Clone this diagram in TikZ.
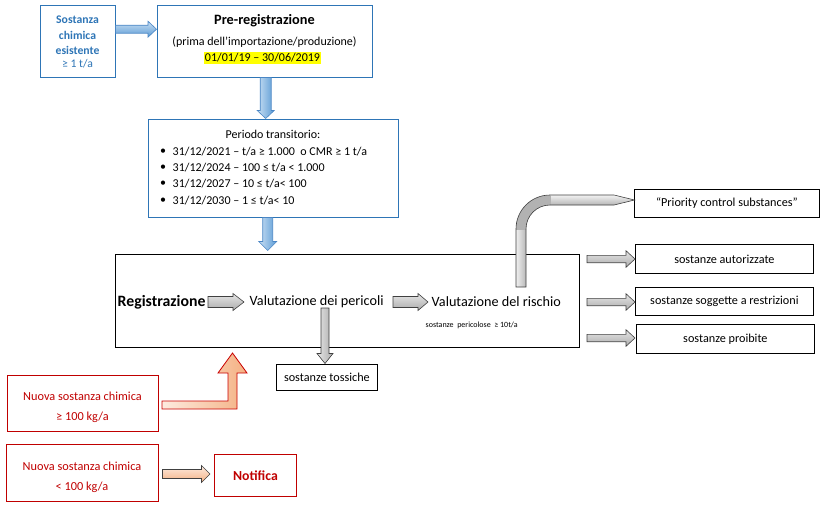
\documentclass[tikz,border=0pt]{standalone}
\usepackage{fontspec}
\setmainfont{Carlito}
\definecolor{bbord}{HTML}{2E75B6}
\definecolor{btext}{HTML}{2E75B6}
\definecolor{rbord}{HTML}{C00000}
\definecolor{bfillA}{HTML}{C9DFF3}
\definecolor{bfillB}{HTML}{5B9BD5}
\definecolor{barr}{HTML}{4A86C5}
\definecolor{orA}{HTML}{FDEBE0}
\definecolor{orB}{HTML}{F4B183}
\definecolor{hilite}{HTML}{FFFF00}
\pgfdeclareradialshading{ringshade}{\pgfpoint{0bp}{0bp}}{color(0bp)=(gray!60); color(35.3bp)=(gray!60); color(42.6bp)=(gray!38); color(50bp)=(gray!8)}
% horizontal block arrow: style, x1, x2, yc, body half, head half, head length
\newcommand{\harr}[7]{\path[#1] (#2,#4-#5) -- (#3-#7,#4-#5) -- (#3-#7,#4-#6) -- (#3,#4) -- (#3-#7,#4+#6) -- (#3-#7,#4+#5) -- (#2,#4+#5) -- cycle;}
% vertical block arrow: style, y1, y2, xc, body half, head half, head length
\newcommand{\varr}[7]{\path[#1] (#4-#5,#2) -- (#4-#5,#3-#7) -- (#4-#6,#3-#7) -- (#4,#3) -- (#4+#6,#3-#7) -- (#4+#5,#3-#7) -- (#4+#5,#2) -- cycle;}
\newcommand{\curvedpath}{(516,287) -- (516,229) .. controls (516,210.2) and (531.2,195) .. (550,195)
  -- (614,195) -- (634.5,200) -- (614,205) -- (550,205)
  .. controls (536.7,205) and (526,215.7) .. (526,229) -- (526,287) -- cycle}
\begin{document}
\begin{tikzpicture}[x=1pt,y=-1pt,
  box/.style={draw=black, line width=0.8pt, anchor=north west, inner sep=0pt, align=center, font=\fontsize{12.2}{14}\selectfont},
  bluebox/.style={box, draw=bbord, line width=1pt},
  redbox/.style={box, draw=rbord, line width=1pt},
  txt/.style={inner sep=0pt, font=\fontsize{12}{14}\selectfont},
  bluearr/.style={draw=barr, line width=0.6pt, top color=bfillA, bottom color=bfillB},
  bluearrv/.style={draw=barr, line width=0.6pt, left color=bfillA, right color=bfillB},
  grayarr/.style={draw=black!75, line width=0.6pt, top color=gray!20, middle color=gray!12, bottom color=gray!65},
  grayarrv/.style={draw=black!75, line width=0.6pt, left color=gray!20, middle color=gray!12, right color=gray!65},
  orarr/.style={draw=black!75, line width=0.6pt, top color=orA, bottom color=orB},
]
\useasboundingbox (0,0) rectangle (820,507);

% ---------- boxes ----------
\node[bluebox, minimum width=75pt, minimum height=72pt] (sost) at (40,5) {};
\node[bluebox, minimum width=215pt, minimum height=72pt] (pre) at (157,5) {};
\node[bluebox, minimum width=250pt, minimum height=98pt] (per) at (148,119) {};
\node[box, minimum width=464pt, minimum height=93pt] (reg) at (115,254) {};
\node[box, minimum width=101pt, minimum height=26pt] (tox) at (276,364) {sostanze tossiche};
\node[box, minimum width=185pt, minimum height=28pt] (prio) at (634,189) {“Priority control substances”};
\node[box, minimum width=178pt, minimum height=29pt] (aut) at (635,244) {sostanze autorizzate};
\node[box, minimum width=178pt, minimum height=28pt] (sog) at (635,287) {sostanze soggette a restrizioni};
\node[box, minimum width=178pt, minimum height=29pt] (proi) at (636,324) {sostanze proibite};
\node[redbox, minimum width=151pt, minimum height=56pt] (new1) at (7,375) {};
\node[redbox, minimum width=152pt, minimum height=57pt] (new2) at (6,444) {};
\node[redbox, minimum width=82pt, minimum height=42pt, text=rbord, font=\bfseries\fontsize{13.8}{16}\selectfont] (notif) at (214,454) {Notifica};

% ---------- texts ----------
\node[txt, text=btext, font=\bfseries\fontsize{11.7}{14}\selectfont] (s1) at (77.5,20) {Sostanza};
\node[txt, text=btext, font=\bfseries\fontsize{11.7}{14}\selectfont] (s2) at (77.5,35) {chimica};
\node[txt, text=btext, font=\bfseries\fontsize{11.7}{14}\selectfont] (s3) at (77.5,50) {esistente};
\node[txt, text=btext, font=\fontsize{11.7}{14}\selectfont] (s4) at (77.5,64) {≥ 1 t/a};

\node[txt, font=\bfseries\fontsize{14.3}{16}\selectfont] (p1) at (264.5,21) {Pre-registrazione};
\node[txt] (p2) at (264.5,42) {(prima dell’importazione/produzione)};
\node[txt, fill=hilite, inner xsep=1pt, inner ysep=1.2pt] (p3) at (262.5,58) {01/01/19 – 30/06/2019};

\node[txt] (t0) at (273,134) {Periodo transitorio:};
\foreach \yy/\tt [count=\i] in {152/{31/12/2021 – t/a ≥ 1.000\ \ o CMR ≥ 1 t/a},168/{31/12/2024 – 100 ≤ t/a < 1.000},184/{31/12/2027 – 10 ≤ t/a< 100},200.5/{31/12/2030 – 1 ≤ t/a< 10}}{
  \node[txt] (b\i) at (163,\yy) {\textbullet};
  \node[txt, anchor=west] (t\i) at (172.5,\yy) {\tt};
}

\node[txt, anchor=west, font=\bfseries\fontsize{15.8}{17}\selectfont] (r1) at (117.5,302) {Registrazione};
\node[txt, anchor=west, font=\fontsize{14.2}{16}\selectfont] (r2) at (249.5,302) {Valutazione dei pericoli};
\node[txt, anchor=west, font=\fontsize{14.2}{16}\selectfont] (r3) at (431.5,302) {Valutazione del rischio};
\node[txt, anchor=west, font=\fontsize{8}{9}\selectfont] (r4) at (425.5,325) {sostanze\ \ pericolose\ \ ≥ 10t/a};

\node[txt, text=rbord, font=\fontsize{12.3}{14}\selectfont] (n1a) at (82.5,396) {Nuova sostanza chimica};
\node[txt, text=rbord, font=\fontsize{12.3}{14}\selectfont] (n1b) at (82.5,417) {≥ 100 kg/a};
\node[txt, text=rbord, font=\fontsize{12.3}{14}\selectfont] (n2a) at (82,466) {Nuova sostanza chimica};
\node[txt, text=rbord, font=\fontsize{12.3}{14}\selectfont] (n2b) at (82,487) {< 100 kg/a};

% ---------- arrows ----------
\harr{bluearr}{115.5}{156.5}{29.2}{4}{8}{8.5}
\varr{bluearrv}{77.5}{118.5}{265.7}{5.5}{8.5}{8}
\varr{bluearrv}{217.5}{250.5}{267.7}{5}{9}{9}

\harr{grayarr}{208}{244}{302}{5.5}{8.5}{11}
\harr{grayarr}{393}{428}{302}{5.5}{8.5}{10}
\varr{grayarrv}{308}{363.5}{325}{4}{8}{10}

\harr{grayarr}{587}{635}{259}{3.7}{8.3}{9}
\harr{grayarr}{587}{635}{302}{3.7}{8.3}{9}
\harr{grayarr}{587}{635}{338}{3.7}{8.3}{9}

% curved arrow to priority substances
\begin{scope}
  \clip \curvedpath;
  \shade[left color=gray!8, middle color=gray!38, right color=gray!60] (515,229) rectangle (527,289);
  \shade[top color=gray!8, middle color=gray!38, bottom color=gray!60] (550,194.5) rectangle (636,205.5);
  \begin{scope}
    \clip (515,194) rectangle (550.3,229.3);
    \shade[shading=ringshade] (516,195) rectangle (584,263);
  \end{scope}
\end{scope}
\draw[black!75, line width=0.6pt] \curvedpath;

% orange L arrow
\path[draw=rbord!85!red, line width=0.8pt, left color=orA, right color=orB]
  (162,401) -- (228,401) -- (228,373) -- (218,373) -- (232.5,353) -- (247,373)
  -- (237,373) -- (237,409) -- (162,409) -- cycle;

\harr{orarr}{162.5}{210}{474}{4.5}{8.5}{8.5}
\end{tikzpicture}
\end{document}
